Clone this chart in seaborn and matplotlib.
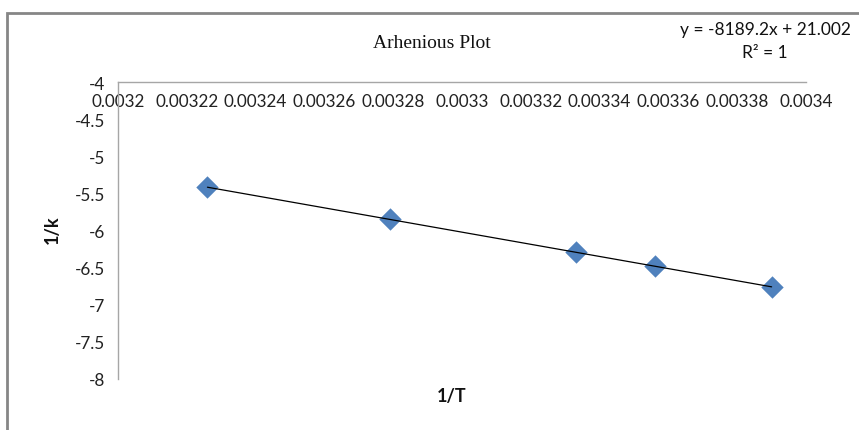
import matplotlib
matplotlib.use("Agg")
import matplotlib.pyplot as plt
import seaborn as sns
import pandas as pd
from matplotlib.patches import Rectangle

inv_T = [0.003226, 0.003279, 0.003333, 0.003356, 0.003390]
inv_k = [-5.416, -5.851, -6.295, -6.479, -6.758]
x_ticks = [0.0032, 0.00322, 0.00324, 0.00326, 0.00328, 0.0033, 0.00332, 0.00334, 0.00336, 0.00338, 0.0034]
x_tick_labels = ["0.0032", "0.00322", "0.00324", "0.00326", "0.00328", "0.0033",
                 "0.00332", "0.00334", "0.00336", "0.00338", "0.0034"]
y_ticks = [-4, -4.5, -5, -5.5, -6, -6.5, -7, -7.5, -8]
y_tick_labels = ["-4", "-4.5", "-5", "-5.5", "-6", "-6.5", "-7", "-7.5", "-8"]
title = "Arhenious Plot"
equation = "y = -8189.2x + 21.002"
r2_text = "R² = 1"

df = pd.DataFrame({"1/T": inv_T, "1/k": inv_k})

sns.set_style("white")
plt.rcParams["font.family"] = ["Lato", "DejaVu Sans"]

fig = plt.figure(figsize=(8.59, 4.31), dpi=100)
ax = fig.add_axes([118 / 859, 1 - 380 / 431, 688 / 859, 297 / 431])

sns.scatterplot(data=df, x="1/T", y="1/k", marker="D", s=130, color="#4F81BD",
                edgecolor="#4F81BD", linewidth=0, ax=ax, zorder=2)
sns.regplot(data=df, x="1/T", y="1/k", scatter=False, ci=None, truncate=True,
            line_kws={"color": "black", "linewidth": 0.9, "zorder": 3}, ax=ax)

ax.set_xlim(0.0032, 0.0034)
ax.set_ylim(-8, -4)
ax.set_xticks(x_ticks)
ax.set_xticklabels(x_tick_labels)
ax.set_yticks(y_ticks)
ax.set_yticklabels(y_tick_labels)

for s in ["right", "top"]:
    ax.spines[s].set_visible(False)
ax.spines["bottom"].set_position(("data", -4))
ax.spines["bottom"].set_color("#a6a6a6")
ax.spines["left"].set_color("#a6a6a6")
ax.spines["bottom"].set_linewidth(1.0)
ax.spines["left"].set_linewidth(1.0)
ax.tick_params(axis="both", which="major", direction="out", length=5, width=1.0,
               color="#a6a6a6", labelsize=12.3, labelcolor="#222222")
ax.tick_params(axis="x", pad=3)
ax.tick_params(axis="y", pad=4)

ax.set_xlabel("")
ax.set_ylabel("")
fig.text(452 / 859, 1 - 397 / 431, "1/T", ha="center", va="center",
         fontsize=13, fontweight="bold", color="#111111")
fig.text(52 / 859, 1 - 230 / 431, "1/k", ha="center", va="center", rotation=90,
         fontsize=13, fontweight="bold", color="#111111")

fig.text(432 / 859, 1 - 44 / 431, title, ha="center", va="center",
         fontsize=14, family=["Liberation Serif"], color="#111111")
fig.text(765 / 859, 1 - 30 / 431, equation, ha="center", va="center",
         fontsize=12.5, color="#111111")
fig.text(765 / 859, 1 - 53 / 431, r2_text, ha="center", va="center",
         fontsize=12.5, color="#111111")

fig.patches.append(Rectangle((7 / 859, -0.1), 1.0, 1 - 14 / 431 + 0.1,
                             transform=fig.transFigure, fill=False,
                             edgecolor="#868686", linewidth=2.0))

fig.savefig("out.png", dpi=100)
